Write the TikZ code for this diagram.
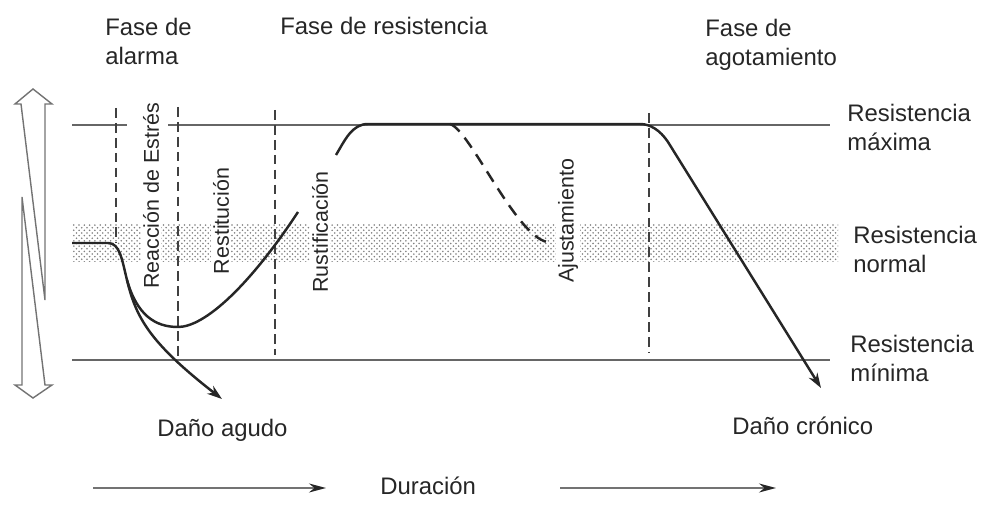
\documentclass[tikz,border=0pt]{standalone}
\usepackage{fontspec}
\setmainfont{Liberation Sans}
\usetikzlibrary{arrows.meta,patterns}

\begin{document}
\begin{tikzpicture}[
    x=0.2mm, y=-0.2mm,
    >={Stealth[length=3mm, width=2mm]},
    font=\fontsize{13.6}{16.5}\selectfont,
    % text styles
    lbl/.style={text=black!85, align=left, inner sep=0pt},
    vlbl/.style={text=black!85, rotate=90, fill=white, inner sep=1pt, font=\fontsize{12.2}{14}\selectfont},
    % line styles
    level/.style={draw=black!60, line width=0.9pt},
    phase/.style={draw=black!75, line width=1.1pt, dash pattern=on 5.5pt off 3pt},
    curve/.style={draw=black!85, line width=1.4pt},
    dashcurve/.style={curve, dash pattern=on 7pt off 4.5pt},
    outline/.style={draw=black!55, line width=0.8pt, line join=miter},
    timeline/.style={draw=black!55, line width=0.9pt, -{Stealth[length=3.4mm, width=1.8mm, color=black!85]}}
  ]

  % Bounding box locked to the 987 x 515 reference
  \useasboundingbox (0, 0) rectangle (987, 515);

  % ---------------------------------------------------------
  % NORMAL BAND AND LEVEL LINES
  % ---------------------------------------------------------
  \fill[pattern=crosshatch dots, pattern color=black!50] (72, 225) rectangle (838, 262);

  \draw[level] (72, 125) -- (127, 125);
  \draw[level] (168, 125) -- (830, 125);
  \draw[level] (72, 360) -- (830, 360);

  % ---------------------------------------------------------
  % PHASE DIVIDERS
  % ---------------------------------------------------------
  \draw[phase] (116, 108) -- (116, 243);
  \draw[phase] (178, 107) -- (178, 357);
  \draw[phase] (275, 110) -- (275, 355);
  \draw[phase] (649, 113) -- (649, 353);

  % ---------------------------------------------------------
  % TITLES AND LEVEL NAMES
  % ---------------------------------------------------------
  \node[lbl, anchor=west] (alarm) at (105, 41.5) {Fase de\\alarma};
  \node[lbl, anchor=base west] (resist) at (280, 35) {Fase de resistencia};
  \node[lbl, anchor=west] (exhaust) at (705, 44.5) {Fase de\\agotamiento};

  \node[lbl, anchor=west] (rmax) at (847, 127.5) {Resistencia\\máxima};
  \node[lbl, anchor=west] (rnorm) at (853, 249) {Resistencia\\normal};
  \node[lbl, anchor=west] (rmin) at (850, 358) {Resistencia\\mínima};

  % Stage names written upwards
  \node[vlbl] (stress) at (151, 196) {Reacción de Estrés};
  \node[vlbl] (restit) at (221, 221) {Restitución};
  \node[vlbl] (rustif) at (320, 232) {Rustificación};
  \node[vlbl] (adjust) at (568, 221) {Ajustamiento};

  % ---------------------------------------------------------
  % RESPONSE CURVES
  % ---------------------------------------------------------
  % Alarm: common drop, then recovery or acute damage
  \draw[curve] (72, 243) -- (108, 243) .. controls (120, 243) and (122, 260) .. (127, 280)
    .. controls (137, 315) and (155, 327) .. (178, 327)
    .. controls (205, 327) and (250, 285) .. (298, 212);
  \draw[curve, ->] (127, 280) .. controls (136, 318) and (150, 343) .. (222, 399);

  % Resistance plateau, then chronic damage
  \draw[curve, ->] (336, 155) .. controls (345, 140) and (352, 124) .. (368, 124)
    -- (640, 124) .. controls (650, 124) and (660, 130) .. (668, 142) -- (821, 388);

  % Adjustment back to the normal band
  \draw[dashcurve] (450, 124) .. controls (470, 130) and (515, 235) .. (547, 242);

  % ---------------------------------------------------------
  % DAMAGE LABELS AND DURATION AXIS
  % ---------------------------------------------------------
  \node[lbl, anchor=base west] (acute) at (157, 437) {Daño agudo};
  \node[lbl, anchor=base west] (chronic) at (732, 435) {Daño crónico};
  \node[lbl, anchor=base west] (dur) at (380, 495) {Duración};

  \coordinate (t1a) at (93, 488);
  \coordinate (t1b) at (326, 488);
  \coordinate (t2a) at (560, 488);
  \coordinate (t2b) at (776, 488);
  \draw[timeline] (t1a) -- (t1b);
  \draw[timeline] (t2a) -- (t2b);

  % ---------------------------------------------------------
  % BROKEN DOUBLE ARROW (range of resistance)
  % ---------------------------------------------------------
  \draw[outline] (45, 300) -- (21, 104) -- (15, 104) -- (33, 89) -- (52, 104) -- (45, 104) -- cycle;
  \draw[outline] (22, 197) -- (22, 385) -- (15, 385) -- (33, 398) -- (52, 385) -- (45, 385) -- cycle;

\end{tikzpicture}
\end{document}
